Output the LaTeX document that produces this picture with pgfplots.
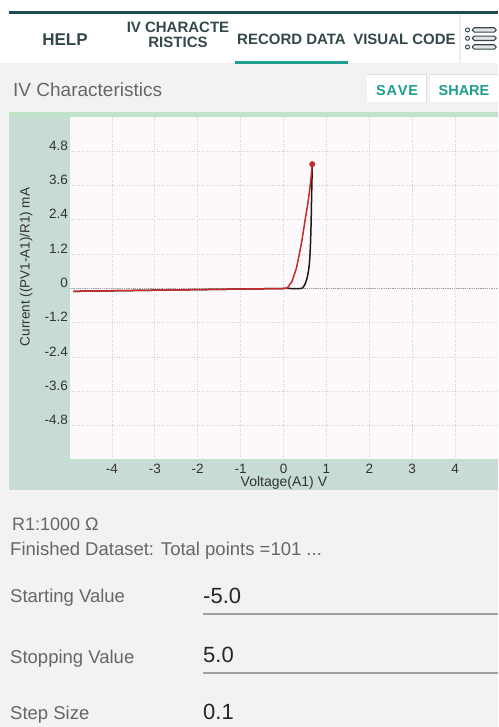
\documentclass[border=0pt]{standalone}
\usepackage{fontspec}
\setmainfont{Liberation Sans}
\usepackage{pgfplots}
\pgfplotsset{compat=1.18}
\definecolor{pagebg}{HTML}{F2F2F2}
\definecolor{chartbg}{HTML}{C8DBD7}
\definecolor{plotbg}{HTML}{FDF8FC}
\definecolor{frameg}{HTML}{BFE3C8}
\definecolor{tabtxt}{HTML}{34484C}
\definecolor{tealc}{HTML}{1E9E8E}
\definecolor{darkline}{HTML}{1F4B53}
\definecolor{redc}{HTML}{C62A2A}
\definecolor{blackc}{HTML}{1A1A1A}
\definecolor{gridc}{HTML}{D2D2D2}
\definecolor{lbl}{HTML}{666666}
\newcommand{\fs}[1]{\fontsize{#1}{#1}\selectfont}
\begin{document}
\begin{tikzpicture}[x=1pt,y=1pt]
\useasboundingbox (0,0) rectangle (498,727);
% page background
\fill[pagebg] (0,0) rectangle (498,727);
\fill[white] (0,713) rectangle (498,727);
\fill[darkline] (9,713) rectangle (498,715.5);
% tab bar
\fill[white] (0,664) rectangle (498,713);
\fill[tealc] (235,662.5) rectangle (348,665.5);
\fill[gray!15] (459,664) rectangle (461,713);
\node[font=\fs{17}\bfseries, text=tabtxt] at (65,687) {HELP};
\node[font=\fs{15}\bfseries, text=tabtxt] at (178,700) {IV CHARACTE};
\node[font=\fs{15}\bfseries, text=tabtxt] at (178,685) {RISTICS};
\node[font=\fs{15}\bfseries, text=tabtxt] at (291.5,688) {RECORD DATA};
\node[font=\fs{15}\bfseries, text=tabtxt] at (404.5,688) {VISUAL CODE};
% menu icon
\foreach \yy in {697,688.7,680}{
  \draw[tabtxt, line width=1.1pt, fill=gray!20, rounded corners=1.8pt] (472.5,\yy-2.2) rectangle (496,\yy+2.2);
  \draw[tabtxt, line width=1pt, fill=white] (467.5,\yy) circle (2);
}
% title row
\node[font=\fs{19}, text=lbl, anchor=base west, inner sep=0pt] at (13,630) {IV Characteristics};
\fill[gray!25] (366.5,624.5) rectangle (426.5,652.5);
\fill[white] (367,625) rectangle (426,652);
\fill[gray!25] (429.5,624.5) rectangle (498,652.5);
\fill[white] (430,625) rectangle (498,652);
\node[font=\fs{14.5}\bfseries, text=tealc] at (397,636) {S\kern0.8pt A\kern0.8pt V\kern0.8pt E};
\node[font=\fs{14.5}\bfseries, text=tealc] at (464,636) {SHARE};
% chart background
\fill[chartbg] (9,237) rectangle (498,612);
\fill[frameg] (9,610) rectangle (498,614.5);
\begin{axis}[
  at={(69pt,267pt)}, anchor=south west,
  scale only axis, width=429pt, height=343pt,
  xmin=-5, xmax=5, ymin=-6, ymax=6,
  axis background/.style={fill=plotbg},
  axis x line*=bottom, axis y line*=left,
  axis line style={draw=frameg, line width=1.5pt, -},
  xtick={-4,-3,-2,-1,0,1,2,3,4},
  xticklabels={-4,-3,-2,-1,0,1,2,3,4},
  ytick={-4.8,-3.6,-2.4,-1.2,0,1.2,2.4,3.6,4.8},
  yticklabels={-4.8,-3.6,-2.4,-1.2,0,1.2,2.4,3.6,4.8},
  major tick length=0pt,
  grid=major,
  grid style={gridc, line width=0.8pt, dash pattern=on 1pt off 1.5pt},
  extra y ticks={0}, extra y tick labels={},
  extra y tick style={grid style={gray!75, line width=1pt, dash pattern=on 1.2pt off 1pt}},
  xticklabel style={font=\fs{13.5}, text=black!80, anchor=north, inner sep=0pt, yshift=-4pt},
  yticklabel style={font=\fs{13.5}, text=black!80, anchor=base east, inner sep=1pt, yshift=1pt},
  xlabel={Voltage(A1) V},
  xlabel style={at={(axis description cs:0.501,0)}, anchor=base, yshift=-27pt, font=\fs{14}, text=black!80, inner sep=0pt},
  ylabel={Current ((PV1-A1)/R1) mA},
  ylabel style={at={(axis description cs:-0.1002,0.5627)}, anchor=center, rotate=0, font=\fs{13.5}, text=black!80, inner sep=0pt},
  clip=false,
]
\addplot[blackc, line width=1.5pt, smooth] coordinates {
(-4.9,-0.10) (-4,-0.08) (-3,-0.06) (-2,-0.04) (-1,-0.02) (0,0.0) (0.4,0.0)
(0.46,0.05) (0.51,0.18) (0.555,0.4) (0.59,0.7) (0.61,1.0) (0.63,1.6)
(0.645,2.4) (0.655,3.2) (0.665,3.9) (0.67,4.35)
};
\addplot[redc, line width=1.5pt, mark=*, mark size=2.2pt, mark indices={17}] coordinates {
(-4.9,-0.10) (-4,-0.08) (-3,-0.06) (-2,-0.04) (-1,-0.02) (0,0.0) (0.09,0.02)
(0.2,0.25) (0.3,0.7) (0.36,1.13) (0.42,1.6) (0.47,2.07) (0.52,2.55)
(0.57,3.0) (0.61,3.45) (0.64,3.85) (0.67,4.35)
};
\end{axis}
% bottom form
\node[font=\fs{18}, text=lbl, anchor=base west, inner sep=0pt] at (12,196) {R1:1000 Ω};
\node[font=\fs{18.5}, text=lbl, anchor=base west, inner sep=0pt] at (10,171) {Finished Dataset: Total points =101 ...};
\node[font=\fs{18.5}, text=lbl, anchor=base west, inner sep=0pt] at (10,124) {Starting Value};
\node[font=\fs{22}, text=black!85, anchor=base west, inner sep=0pt] at (203,123) {-5.0};
\draw[gray!75, line width=1.5pt] (203,113) -- (498,113);
\node[font=\fs{18.5}, text=lbl, anchor=base west, inner sep=0pt] at (10,63) {Stopping Value};
\node[font=\fs{22}, text=black!85, anchor=base west, inner sep=0pt] at (203,64) {5.0};
\draw[gray!75, line width=1.5pt] (203,54) -- (498,54);
\node[font=\fs{18.5}, text=lbl, anchor=base west, inner sep=0pt] at (10,8) {Step Size};
\node[font=\fs{22}, text=black!85, anchor=base west, inner sep=0pt] at (203,7) {0.1};
\end{tikzpicture}
\end{document}
